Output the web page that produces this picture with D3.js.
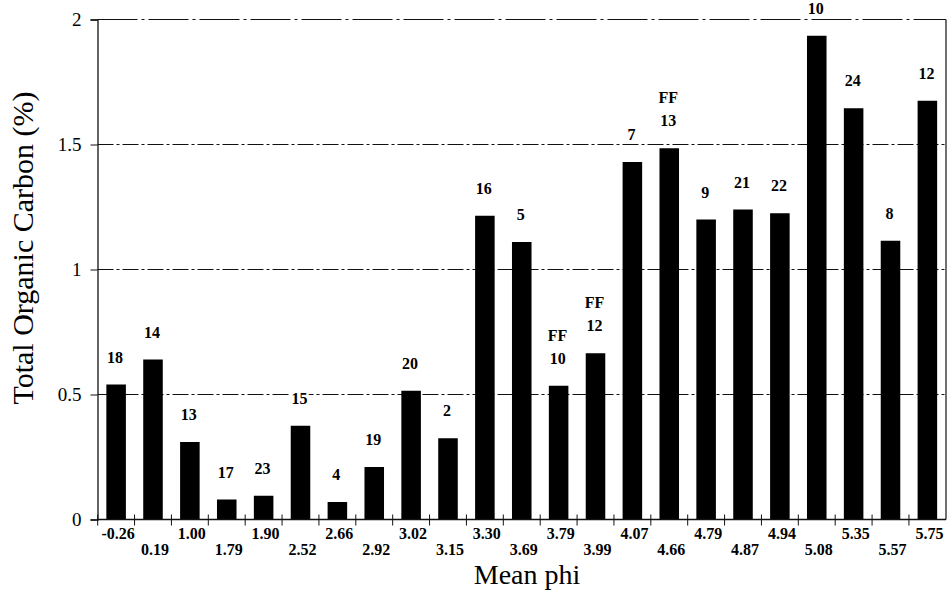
<!DOCTYPE html>
<html>
<head>
<meta charset="utf-8">
<script src="https://cdn.jsdelivr.net/npm/d3@7"></script>
<style>
  body { margin: 0; background: #fff; }
  svg { display: block; font-family: 'Liberation Serif', 'Times New Roman', serif; }
</style>
</head>
<body>
<svg id="chart" width="951" height="592"></svg>
<script>
// mean phi of each sample (x categories)
const meanPhi = ['-0.26', '0.19', '1.00', '1.79', '1.90', '2.52', '2.66', '2.92', '3.02', '3.15', '3.30', '3.69',
  '3.79', '3.99', '4.07', '4.66', '4.79', '4.87', '4.94', '5.08', '5.35', '5.57', '5.75'];
// total organic carbon (%)
const tocValues = [0.54, 0.64, 0.31, 0.08, 0.095, 0.375, 0.07, 0.21, 0.515, 0.325, 1.215, 1.11,
  0.535, 0.665, 1.43, 1.485, 1.20, 1.24, 1.225, 1.935, 1.645, 1.115, 1.675];
// station numbers written over the bars
const stationIds = ['18', '14', '13', '17', '23', '15', '4', '19', '20', '2', '16', '5',
  '10', '12', '7', '13', '9', '21', '22', '10', '24', '8', '12'];
// samples marked FF
const ffSamples = [false, false, false, false, false, false, false, false, false, false, false, false,
  true, true, false, true, false, false, false, false, false, false, false];
const yTicks = [0, 0.5, 1, 1.5, 2];

const svg = d3.select('#chart');
const area = { left: 97.5, right: 946, top: 19.5, bottom: 519.5 };

const x = d3.scaleBand()
  .domain(meanPhi)
  .range([area.left, area.right])
  .paddingInner(0.47)
  .paddingOuter(0.24);
const y = d3.scaleLinear().domain([0, 2]).range([area.bottom, area.top]);

// grid lines (dash-dot like the printed figure)
svg.append('g')
  .selectAll('line')
  .data(yTicks.filter(d => d > 0))
  .enter().append('line')
  .attr('x1', area.left)
  .attr('x2', area.right)
  .attr('y1', d => y(d))
  .attr('y2', d => y(d))
  .attr('stroke', '#111')
  .attr('stroke-width', 1)
  .attr('stroke-dasharray', d => d === 2 ? '40,4,3,4' : '16,3,3,3');

// right frame
svg.append('line')
  .attr('x1', area.right).attr('x2', area.right)
  .attr('y1', y(2)).attr('y2', y(0))
  .attr('stroke', '#111')
  .attr('stroke-width', 1.2);

// y axis
const yAxis = svg.append('g')
  .attr('transform', `translate(${area.left},0)`)
  .call(d3.axisLeft(y).tickValues(yTicks).tickSize(7).tickPadding(9).tickFormat(d3.format('')));
yAxis.select('.domain').attr('stroke', '#111').attr('stroke-width', 1.3);
yAxis.selectAll('.tick line').attr('stroke', '#111');
yAxis.selectAll('text')
  .attr('font-family', "'Liberation Serif', serif")
  .attr('font-size', 19)
  .attr('fill', '#000');

// bars
svg.append('g')
  .selectAll('rect')
  .data(tocValues)
  .enter().append('rect')
  .attr('x', (d, i) => x(meanPhi[i]))
  .attr('y', d => y(d))
  .attr('width', x.bandwidth())
  .attr('height', d => y(0) - y(d))
  .style('fill', '#000');

// x axis line + crossing ticks at band edges
svg.append('line')
  .attr('x1', area.left).attr('x2', area.right)
  .attr('y1', y(0)).attr('y2', y(0))
  .attr('stroke', '#111')
  .attr('stroke-width', 1.3);

const gap = x.step() - x.bandwidth();
svg.append('g')
  .selectAll('line')
  .data(meanPhi)
  .enter().append('line')
  .attr('x1', d => x(d) - gap / 2)
  .attr('x2', d => x(d) - gap / 2)
  .attr('y1', y(0) - 5)
  .attr('y2', y(0) + 6)
  .attr('stroke', '#111')
  .attr('stroke-width', 1);

// x tick labels, staggered in two rows
svg.append('g')
  .selectAll('text')
  .data(meanPhi)
  .enter().append('text')
  .attr('x', d => x(d) + x.bandwidth() / 2 + 2)
  .attr('y', (d, i) => i % 2 === 0 ? y(0) + 19 : y(0) + 35.5)
  .attr('text-anchor', 'middle')
  .attr('font-size', 16)
  .attr('font-weight', 'bold')
  .text(d => d);

// station labels above bars (white halo breaks the grid line like the print)
svg.append('g')
  .selectAll('text')
  .data(tocValues)
  .enter().append('text')
  .attr('x', (d, i) => x(meanPhi[i]) + x.bandwidth() / 2 - 1)
  .attr('y', d => y(d) - 22)
  .attr('text-anchor', 'middle')
  .attr('font-size', 16)
  .attr('font-weight', 'bold')
  .attr('paint-order', 'stroke')
  .attr('stroke', '#fff')
  .attr('stroke-width', 5)
  .text((d, i) => stationIds[i]);

// the FF prefix sits one line above the number
svg.append('g')
  .selectAll('text')
  .data(tocValues.map((d, i) => ({ v: d, i })).filter(d => ffSamples[d.i]))
  .enter().append('text')
  .attr('x', d => x(meanPhi[d.i]) + x.bandwidth() / 2 - 1)
  .attr('y', d => y(d.v) - 45)
  .attr('text-anchor', 'middle')
  .attr('font-size', 16)
  .attr('font-weight', 'bold')
  .attr('paint-order', 'stroke')
  .attr('stroke', '#fff')
  .attr('stroke-width', 5)
  .text('FF');

// axis titles
svg.append('text')
  .attr('x', 527)
  .attr('y', 584)
  .attr('text-anchor', 'middle')
  .attr('font-size', 28)
  .text('Mean phi');

svg.append('text')
  .attr('transform', 'rotate(-90)')
  .attr('x', -248)
  .attr('y', 33)
  .attr('text-anchor', 'middle')
  .attr('font-size', 30)
  .text('Total Organic Carbon (%)');
</script>
</body>
</html>
